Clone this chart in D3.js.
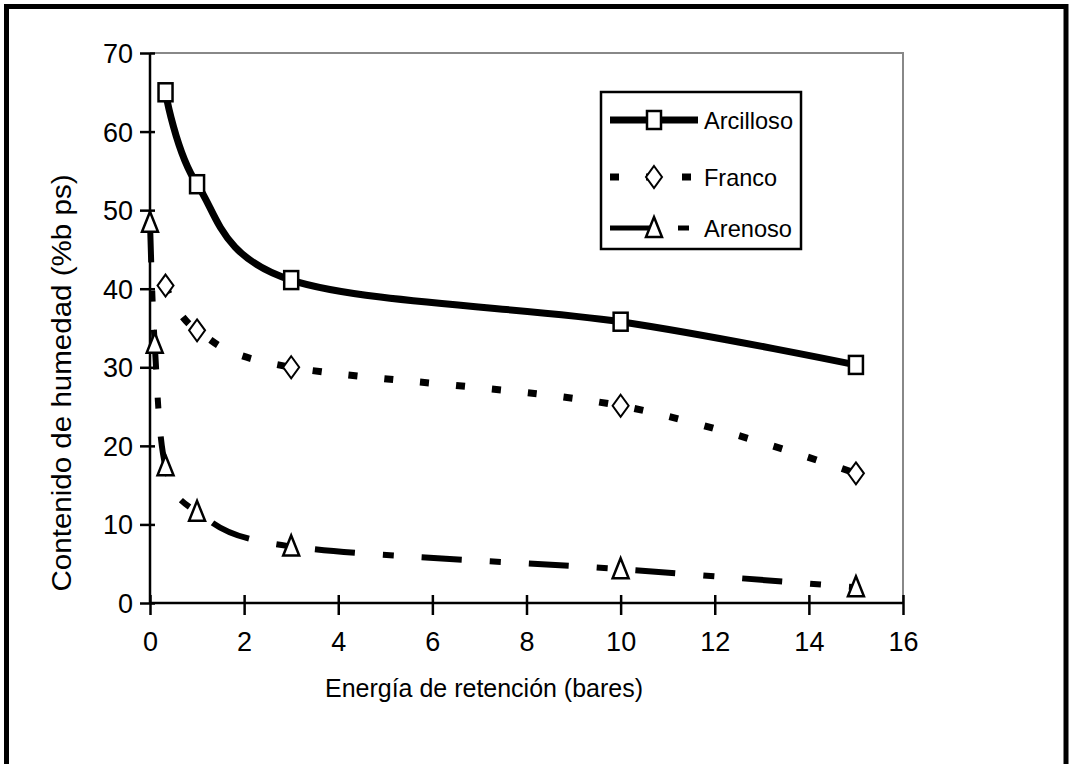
<!DOCTYPE html>
<html>
<head>
<meta charset="utf-8">
<script src="https://cdn.jsdelivr.net/npm/d3@7"></script>
<style>
  html, body { margin: 0; padding: 0; background: #ffffff; }
  svg { display: block; }
  text { font-family: "Liberation Sans", Arial, sans-serif; fill: #000; }
</style>
</head>
<body>
<svg id="chart" width="1069" height="764"></svg>
<script>
// ---- data ----
const seriesNames = ["Arcilloso", "Franco", "Arenoso"];
const arcillosoX = [0.33, 1, 3, 10, 15];
const arcillosoY = [65, 53.3, 41.1, 35.8, 30.3];
const francoX = [0.33, 1, 3, 10, 15];
const francoY = [40.4, 34.7, 30.0, 25.1, 16.5];
const arenosoX = [0, 0.1, 0.33, 1, 3, 10, 15];
const arenosoY = [48.4, 33.0, 17.4, 11.6, 7.2, 4.3, 2.0];
const xTickValues = [0, 2, 4, 6, 8, 10, 12, 14, 16];
const yTickValues = [0, 10, 20, 30, 40, 50, 60, 70];
const xTitle = "Energía de retención (bares)";
const yTitle = "Contenido de humedad (%b ps)";

const svg = d3.select("#chart");

// outer frame
svg.append("rect").attr("x", 0).attr("y", 0).attr("width", 1069).attr("height", 764).attr("fill", "#ffffff");
svg.append("rect").attr("x", 6.5).attr("y", 6.5).attr("width", 1059.5).attr("height", 800)
  .attr("fill", "none").attr("stroke", "#000").attr("stroke-width", 5);

const x = d3.scaleLinear().domain([0, 16]).range([150, 903]);
const y = d3.scaleLinear().domain([0, 70]).range([603, 53]);

// plot area border (gray top/right)
svg.append("path")
  .attr("d", `M${x(0)},${y(70)} H${x(16)} V${y(0)}`)
  .attr("fill", "none").attr("stroke", "#888").attr("stroke-width", 2);

// axes
const xAxis = d3.axisBottom(x).tickValues(xTickValues).tickSize(12).tickPadding(0).tickFormat(d3.format("d"));
const gx = svg.append("g").attr("transform", `translate(0,${y(0)})`).call(xAxis);
gx.select(".domain").attr("stroke", "#000").attr("stroke-width", 2.5).attr("d", `M${x(0)},0H${x(16)}`);
gx.selectAll(".tick line").attr("stroke", "#000").attr("stroke-width", 2.5).attr("y1", -8).attr("y2", 12);
gx.selectAll(".tick text").attr("font-size", 27).attr("y", 48).attr("dy", 0)
  .attr("font-family", "'Liberation Sans', Arial, sans-serif").attr("fill", "#000");

const yAxis = d3.axisLeft(y).tickValues(yTickValues).tickSize(10).tickPadding(0).tickFormat(d3.format("d"));
const gy = svg.append("g").attr("transform", `translate(${x(0)},0)`).call(yAxis);
gy.select(".domain").attr("stroke", "#000").attr("stroke-width", 2.5).attr("d", `M0,${y(0)}V${y(70)}`);
gy.selectAll(".tick line").attr("stroke", "#000").attr("stroke-width", 2.5).attr("x1", 5).attr("x2", -10);
gy.selectAll(".tick text").attr("font-size", 27).attr("x", -17).attr("dy", "0.35em")
  .attr("font-family", "'Liberation Sans', Arial, sans-serif").attr("fill", "#000");

// axis titles
svg.append("text").attr("x", 484).attr("y", 697).attr("text-anchor", "middle")
  .attr("font-size", 26).attr("textLength", 318).attr("lengthAdjust", "spacingAndGlyphs").text(xTitle);
svg.append("text").attr("transform", "translate(71,383) rotate(-90)").attr("text-anchor", "middle")
  .attr("font-size", 27).attr("textLength", 417).attr("lengthAdjust", "spacingAndGlyphs").text(yTitle);

// lines
const line = d3.line().x(d => x(d[0])).y(d => y(d[1])).curve(d3.curveCardinal.tension(0));
const zip = (xs, ys) => xs.map((v, i) => [v, ys[i]]);
const arc = zip(arcillosoX, arcillosoY);
const fra = zip(francoX, francoY);
const are = zip(arenosoX, arenosoY);

const styles = {
  Arcilloso: { width: 7, dash: null },
  Franco: { width: 7, dash: "9,27" },
  Arenoso: { width: 6, dash: "40,28,11,28" }
};

svg.append("path").datum(arc).attr("d", line).attr("fill", "none").attr("stroke", "#000")
  .attr("stroke-width", styles.Arcilloso.width);
svg.append("path").datum(fra).attr("d", line).attr("fill", "none").attr("stroke", "#000")
  .attr("stroke-width", styles.Franco.width).attr("stroke-dasharray", styles.Franco.dash);
svg.append("path").datum(are).attr("d", line).attr("fill", "none").attr("stroke", "#000")
  .attr("stroke-width", styles.Arenoso.width).attr("stroke-dasharray", styles.Arenoso.dash);

// markers
function square(g, cx, cy) {
  g.append("rect").attr("x", cx - 7).attr("y", cy - 9).attr("width", 14).attr("height", 18)
    .attr("fill", "#fff").attr("stroke", "#000").attr("stroke-width", 2.5);
}
function diamond(g, cx, cy) {
  g.append("path").attr("d", `M${cx},${cy - 11} L${cx + 8},${cy} L${cx},${cy + 11} L${cx - 8},${cy} Z`)
    .attr("fill", "#fff").attr("stroke", "#000").attr("stroke-width", 2);
}
function triangle(g, cx, cy) {
  g.append("path").attr("d", `M${cx},${cy - 11} L${cx + 8},${cy + 9} L${cx - 8},${cy + 9} Z`)
    .attr("fill", "#fff").attr("stroke", "#000").attr("stroke-width", 2.5);
}
const mg = svg.append("g");
arc.forEach(d => square(mg, x(d[0]), y(d[1])));
fra.forEach(d => diamond(mg, x(d[0]), y(d[1])));
are.forEach(d => triangle(mg, x(d[0]), y(d[1])));

// legend
const lg = svg.append("g");
lg.append("rect").attr("x", 601).attr("y", 92).attr("width", 200).attr("height", 157)
  .attr("fill", "#fff").attr("stroke", "#000").attr("stroke-width", 2.5);
const legendRows = [
  { name: seriesNames[0], y: 120, len: 89, marker: square },
  { name: seriesNames[1], y: 177, len: 73, marker: diamond },
  { name: seriesNames[2], y: 228, len: 88, marker: triangle }
];
legendRows.forEach((r, i) => {
  const st = styles[r.name];
  const p = lg.append("line").attr("x1", 610).attr("x2", 698).attr("y1", r.y).attr("y2", r.y)
    .attr("stroke", "#000").attr("stroke-width", i === 2 ? 5 : st.width);
  if (st.dash) p.attr("stroke-dasharray", st.dash);
  r.marker(lg, 654, r.y);
  lg.append("text").attr("x", 704).attr("y", r.y + 9).attr("font-size", 24)
    .attr("textLength", r.len).attr("lengthAdjust", "spacingAndGlyphs").text(r.name);
});
</script>
</body>
</html>
